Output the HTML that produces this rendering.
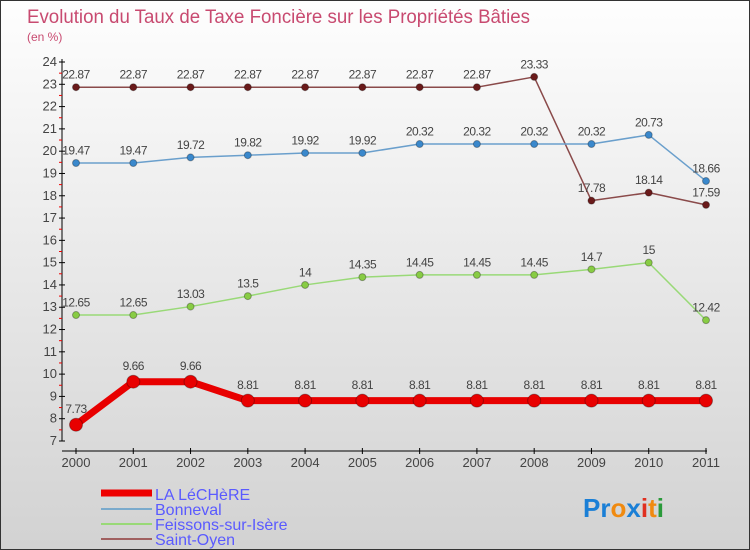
<!DOCTYPE html>
<html><head><meta charset="utf-8"><style>
body{margin:0}
#c{width:750px;height:550px;position:relative;overflow:hidden;box-sizing:border-box;border:1px solid #333;background:linear-gradient(#fefefe,#d2d2d2);font-family:"Liberation Sans","DejaVu Sans",sans-serif}
</style></head><body>
<div id="c">
<svg id="s" width="750" height="550" style="position:absolute;left:0;top:0">
<text x="26" y="22" font-size="19" fill="#c84a70" textLength="503" lengthAdjust="spacingAndGlyphs">Evolution du Taux de Taxe Foncière sur les Propriétés Bâties</text>
<text x="26" y="40" font-size="12" fill="#c84a70">(en %)</text>
<g id="ax"></g><g id="series"></g>
<g>
<line x1="100" y1="492" x2="151" y2="492" stroke="#e00" stroke-width="7"/>
<text x="154" y="499" font-size="16" fill="#5a5aff">LA LéCHèRE</text>
<line x1="100" y1="508" x2="151" y2="508" stroke="#7aaacc" stroke-width="2"/>
<text x="154" y="514" font-size="16" fill="#5a5aff">Bonneval</text>
<line x1="100" y1="523" x2="151" y2="523" stroke="#99d977" stroke-width="2"/>
<text x="154" y="529" font-size="16" fill="#5a5aff">Feissons-sur-Isère</text>
<line x1="100" y1="538" x2="151" y2="538" stroke="#a06060" stroke-width="2"/>
<text x="154" y="544" font-size="16" fill="#5a5aff">Saint-Oyen</text>
</g>
<text x="582" y="516" font-size="26" font-weight="bold"><tspan fill="#1a7fd6">Pr</tspan><tspan fill="#f08a10">o</tspan><tspan fill="#1a7fd6">x</tspan><tspan fill="#e03020">i</tspan><tspan fill="#f08a10">t</tspan><tspan fill="#2a9a3a">i</tspan></text>
</svg>
</div>
<script>
const years=[2000,2001,2002,2003,2004,2005,2006,2007,2008,2009,2010,2011];
const yTicks=[7,8,9,10,11,12,13,14,15,16,17,18,19,20,21,22,23,24];
const laLechere=[7.73,9.66,9.66,8.81,8.81,8.81,8.81,8.81,8.81,8.81,8.81,8.81];
const bonneval=[19.47,19.47,19.72,19.82,19.92,19.92,20.32,20.32,20.32,20.32,20.73,18.66];
const feissons=[12.65,12.65,13.03,13.5,14,14.35,14.45,14.45,14.45,14.7,15,12.42];
const saintOyen=[22.87,22.87,22.87,22.87,22.87,22.87,22.87,22.87,23.33,17.78,18.14,17.59];
const X=i=>75+i*(630/(years.length-1));
const Y=v=>440-(v-7)*(379/17);
const NS="http://www.w3.org/2000/svg";
function mk(t,a,p){const e=document.createElementNS(NS,t);for(const k in a)e.setAttribute(k,a[k]);p.appendChild(e);return e;}
const ax=document.getElementById('ax');
let l=mk('line',{x1:61,y1:58,x2:61,y2:440,stroke:'#000'},ax);


l=mk('line',{x1:61,y1:450,x2:706,y2:450,stroke:'#000'},ax);


yTicks.forEach(v=>{
 const y=Y(v);
 mk('line',{x1:58,y1:y,x2:64,y2:y,stroke:'#000'},ax);
 if(v<24) mk('line',{x1:58,y1:y-11.15,x2:61,y2:y-11.15,stroke:'#e00'},ax);
 const t=mk('text',{x:56,y:y+4,'font-size':13,fill:'#444','text-anchor':'end'},ax);t.textContent=v;
 
 
});
years.forEach((yr,i)=>{
 mk('line',{x1:X(i),y1:447,x2:X(i),y2:453,stroke:'#000'},ax);
 const t=mk('text',{x:X(i),y:466,'font-size':13,fill:'#444','text-anchor':'middle'},ax);t.textContent=yr;
 
 
});
const sg=document.getElementById('series');
function series(data,name,col,dot,w,r){
 const g=mk('g',{},sg);
 
 
 const pl=mk('polyline',{points:data.map((v,i)=>X(i)+','+Y(v)).join(' '),fill:'none',stroke:col,'stroke-width':w,'stroke-linejoin':'round'},g);
 
 
 data.forEach((v,i)=>{
  const c=mk('circle',{cx:X(i),cy:Y(v),r:r,fill:dot,stroke:'rgba(0,0,0,0.3)'},g);
  
  
  const t=mk('text',{x:X(i),y:Y(v)-(r+5),'font-size':12,fill:'#444','text-anchor':'middle','letter-spacing':'-0.5'},g);t.textContent=v;
  
  
 });
}
series(saintOyen,'saint-oyen','#8a4a4a','#6a1a1a',1.5,3.5);
series(bonneval,'bonneval','#6a9fcc','#3a88cc',1.5,3.5);
series(feissons,'feissons','#99d977','#88cc44',1.5,3.5);
series(laLechere,'la-lechere','#e80000','#e80000',7,6.5);
</script>
</body></html>
